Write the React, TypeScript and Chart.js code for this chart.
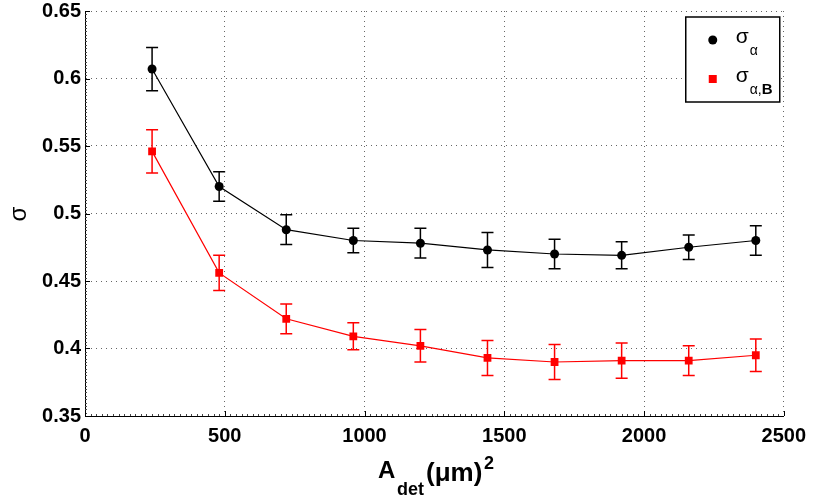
import React, { useEffect, useRef } from "react";
import { Chart, registerables } from "chart.js";

Chart.register(...registerables);

const areas = [240, 480, 720, 960, 1200, 1440, 1680, 1920, 2160, 2400];
const sigmaAlpha = [0.607, 0.52, 0.488, 0.48, 0.478, 0.473, 0.47, 0.469, 0.475, 0.48];
const sigmaAlphaErr = [0.016, 0.011, 0.011, 0.009, 0.011, 0.013, 0.011, 0.01, 0.009, 0.011];
const sigmaAlphaB = [0.546, 0.456, 0.422, 0.409, 0.402, 0.393, 0.39, 0.391, 0.391, 0.395];
const sigmaAlphaBErr = [0.016, 0.013, 0.011, 0.01, 0.012, 0.013, 0.013, 0.013, 0.011, 0.012];
const xTicks = [0, 500, 1000, 1500, 2000, 2500];
const yTicks = [0.35, 0.4, 0.45, 0.5, 0.55, 0.6, 0.65];

const FONT = "'Liberation Sans', Arial, sans-serif";

const errorBarPlugin = {
  id: "errorBars",
  beforeDatasetsDraw(chart: any) {
    const ctx = chart.ctx;
    const xs = chart.scales.x;
    const ys = chart.scales.y;
    const sets = [
      { v: sigmaAlpha, e: sigmaAlphaErr, c: "#000000" },
      { v: sigmaAlphaB, e: sigmaAlphaBErr, c: "#ff0000" },
    ];
    ctx.save();
    ctx.lineWidth = 1.5;
    sets.forEach((s) => {
      ctx.strokeStyle = s.c;
      areas.forEach((a, i) => {
        const px = xs.getPixelForValue(a);
        const top = ys.getPixelForValue(s.v[i] + s.e[i]);
        const bot = ys.getPixelForValue(s.v[i] - s.e[i]);
        ctx.beginPath();
        ctx.moveTo(px, top);
        ctx.lineTo(px, bot);
        ctx.moveTo(px - 6, top);
        ctx.lineTo(px + 6, top);
        ctx.moveTo(px - 6, bot);
        ctx.lineTo(px + 6, bot);
        ctx.stroke();
      });
    });
    ctx.restore();
  },
};

const decorPlugin = {
  id: "decor",
  afterDraw(chart: any) {
    const ctx = chart.ctx;
    const ca = chart.chartArea;
    const xs = chart.scales.x;
    const ys = chart.scales.y;
    ctx.save();
    // minor ticks
    ctx.strokeStyle = "#444";
    ctx.lineWidth = 1;
    ctx.beginPath();
    for (let v = 0; v <= 2500; v += 20) {
      const px = Math.round(xs.getPixelForValue(v)) + 0.5;
      ctx.moveTo(px, ca.bottom);
      ctx.lineTo(px, ca.bottom - 2);
    }
    for (let v = 0.35; v <= 0.6501; v += 0.0025) {
      const py = Math.round(ys.getPixelForValue(v)) + 0.5;
      ctx.moveTo(ca.left, py);
      ctx.lineTo(ca.left + 2, py);
    }
    ctx.stroke();
    // major ticks
    ctx.strokeStyle = "#000";
    ctx.beginPath();
    xTicks.forEach((v) => {
      const px = Math.round(xs.getPixelForValue(v)) + 0.5;
      ctx.moveTo(px, ca.bottom);
      ctx.lineTo(px, ca.bottom - 5);
    });
    yTicks.forEach((v) => {
      const py = Math.round(ys.getPixelForValue(v)) + 0.5;
      ctx.moveTo(ca.left, py);
      ctx.lineTo(ca.left + 5, py);
    });
    ctx.stroke();

    // legend
    const lx = ca.right - 98;
    const ly = ca.top + 6;
    const lw = 94;
    const lh = 85;
    ctx.fillStyle = "#fff";
    ctx.fillRect(lx, ly, lw, lh);
    ctx.strokeStyle = "#000";
    ctx.lineWidth = 1.5;
    ctx.strokeRect(lx, ly, lw, lh);
    ctx.fillStyle = "#000";
    ctx.beginPath();
    ctx.arc(lx + 27, ly + 23, 4.5, 0, Math.PI * 2);
    ctx.fill();
    ctx.fillStyle = "#ff0000";
    ctx.fillRect(lx + 23, ly + 58, 8, 8);
    ctx.fillStyle = "#000";
    ctx.textBaseline = "alphabetic";
    ctx.textAlign = "left";
    ctx.font = `21px ${FONT}`;
    ctx.fillText("σ", lx + 50, ly + 26);
    ctx.font = `14px ${FONT}`;
    ctx.fillText("α", lx + 64, ly + 38);
    ctx.font = `21px ${FONT}`;
    ctx.fillText("σ", lx + 50, ly + 65);
    ctx.font = `14px ${FONT}`;
    ctx.fillText("α,", lx + 64, ly + 77);
    const aw = ctx.measureText("α,").width;
    ctx.font = `bold 15px ${FONT}`;
    ctx.fillText("B", lx + 64 + aw, ly + 77);

    // x title
    ctx.font = `bold 24px ${FONT}`;
    ctx.fillText("A", 378, 478);
    ctx.font = `bold 18px ${FONT}`;
    ctx.fillText("det", 397, 495);
    ctx.font = `bold 26px ${FONT}`;
    ctx.fillText("(μm)", 426, 481);
    ctx.font = `bold 18px ${FONT}`;
    ctx.fillText("2", 484, 469);

    // y title
    ctx.save();
    ctx.translate(19, 214);
    ctx.rotate(-Math.PI / 2);
    ctx.textAlign = "center";
    ctx.textBaseline = "middle";
    ctx.font = `24px ${FONT}`;
    ctx.fillText("σ", 0, 0);
    ctx.restore();

    ctx.restore();
  },
};

export default function App() {
  const ref = useRef<HTMLCanvasElement>(null);
  useEffect(() => {
    if (!ref.current) return;
    const chart = new Chart(ref.current, {
      type: "line",
      data: {
        datasets: [
          {
            label: "σα",
            data: areas.map((a, i) => ({ x: a, y: sigmaAlpha[i] })),
            borderColor: "#000000",
            backgroundColor: "#000000",
            borderWidth: 1.2,
            pointStyle: "circle",
            pointRadius: 4.5,
            pointBorderWidth: 0,
          },
          {
            label: "σα,B",
            data: areas.map((a, i) => ({ x: a, y: sigmaAlphaB[i] })),
            borderColor: "#ff0000",
            backgroundColor: "#ff0000",
            borderWidth: 1.2,
            pointStyle: "rect",
            pointRadius: 5.5,
            pointBorderWidth: 0,
          },
        ],
      },
      options: {
        animation: false,
        responsive: false,
        layout: { padding: { left: 0, top: 11, right: 29, bottom: 0 } },
        plugins: { legend: { display: false }, tooltip: { enabled: false } },
        scales: {
          x: {
            type: "linear",
            min: 0,
            max: 2500,
            afterBuildTicks: (s: any) => {
              s.ticks = xTicks.map((v) => ({ value: v }));
            },
            afterFit: (s: any) => {
              s.height = 83;
            },
            ticks: {
              color: "#000",
              font: { family: FONT, size: 20, weight: "bold" },
              padding: 8,
              maxRotation: 0,
              callback: (v: any) => String(v),
            },
            grid: {
              color: "rgba(0,0,0,0.6)",
              drawTicks: false,
              tickLength: 0,
            },
            border: { display: true, color: "#000", width: 1, dash: [1, 4] as any },
          },
          y: {
            type: "linear",
            min: 0.35,
            max: 0.65,
            afterBuildTicks: (s: any) => {
              s.ticks = yTicks.map((v) => ({ value: v }));
            },
            afterFit: (s: any) => {
              s.width = 85;
              s.paddingTop = 0;
              s.paddingBottom = 0;
            },
            ticks: {
              color: "#000",
              font: { family: FONT, size: 20, weight: "bold" },
              padding: 4,
              callback: (v: any) => String(Math.round(Number(v) * 100) / 100),
            },
            grid: {
              color: "rgba(0,0,0,0.6)",
              drawTicks: false,
              tickLength: 0,
            },
            border: { display: true, color: "#000", width: 1, dash: [1, 4] as any },
          },
        },
      } as any,
      plugins: [errorBarPlugin, decorPlugin],
    });
    return () => chart.destroy();
  }, []);
  return (
    <div style={{ position: "fixed", left: 0, top: 0, width: 814, height: 499, background: "#fff" }}>
      <canvas ref={ref} width={814} height={499} style={{ width: 814, height: 499 }} />
    </div>
  );
}
